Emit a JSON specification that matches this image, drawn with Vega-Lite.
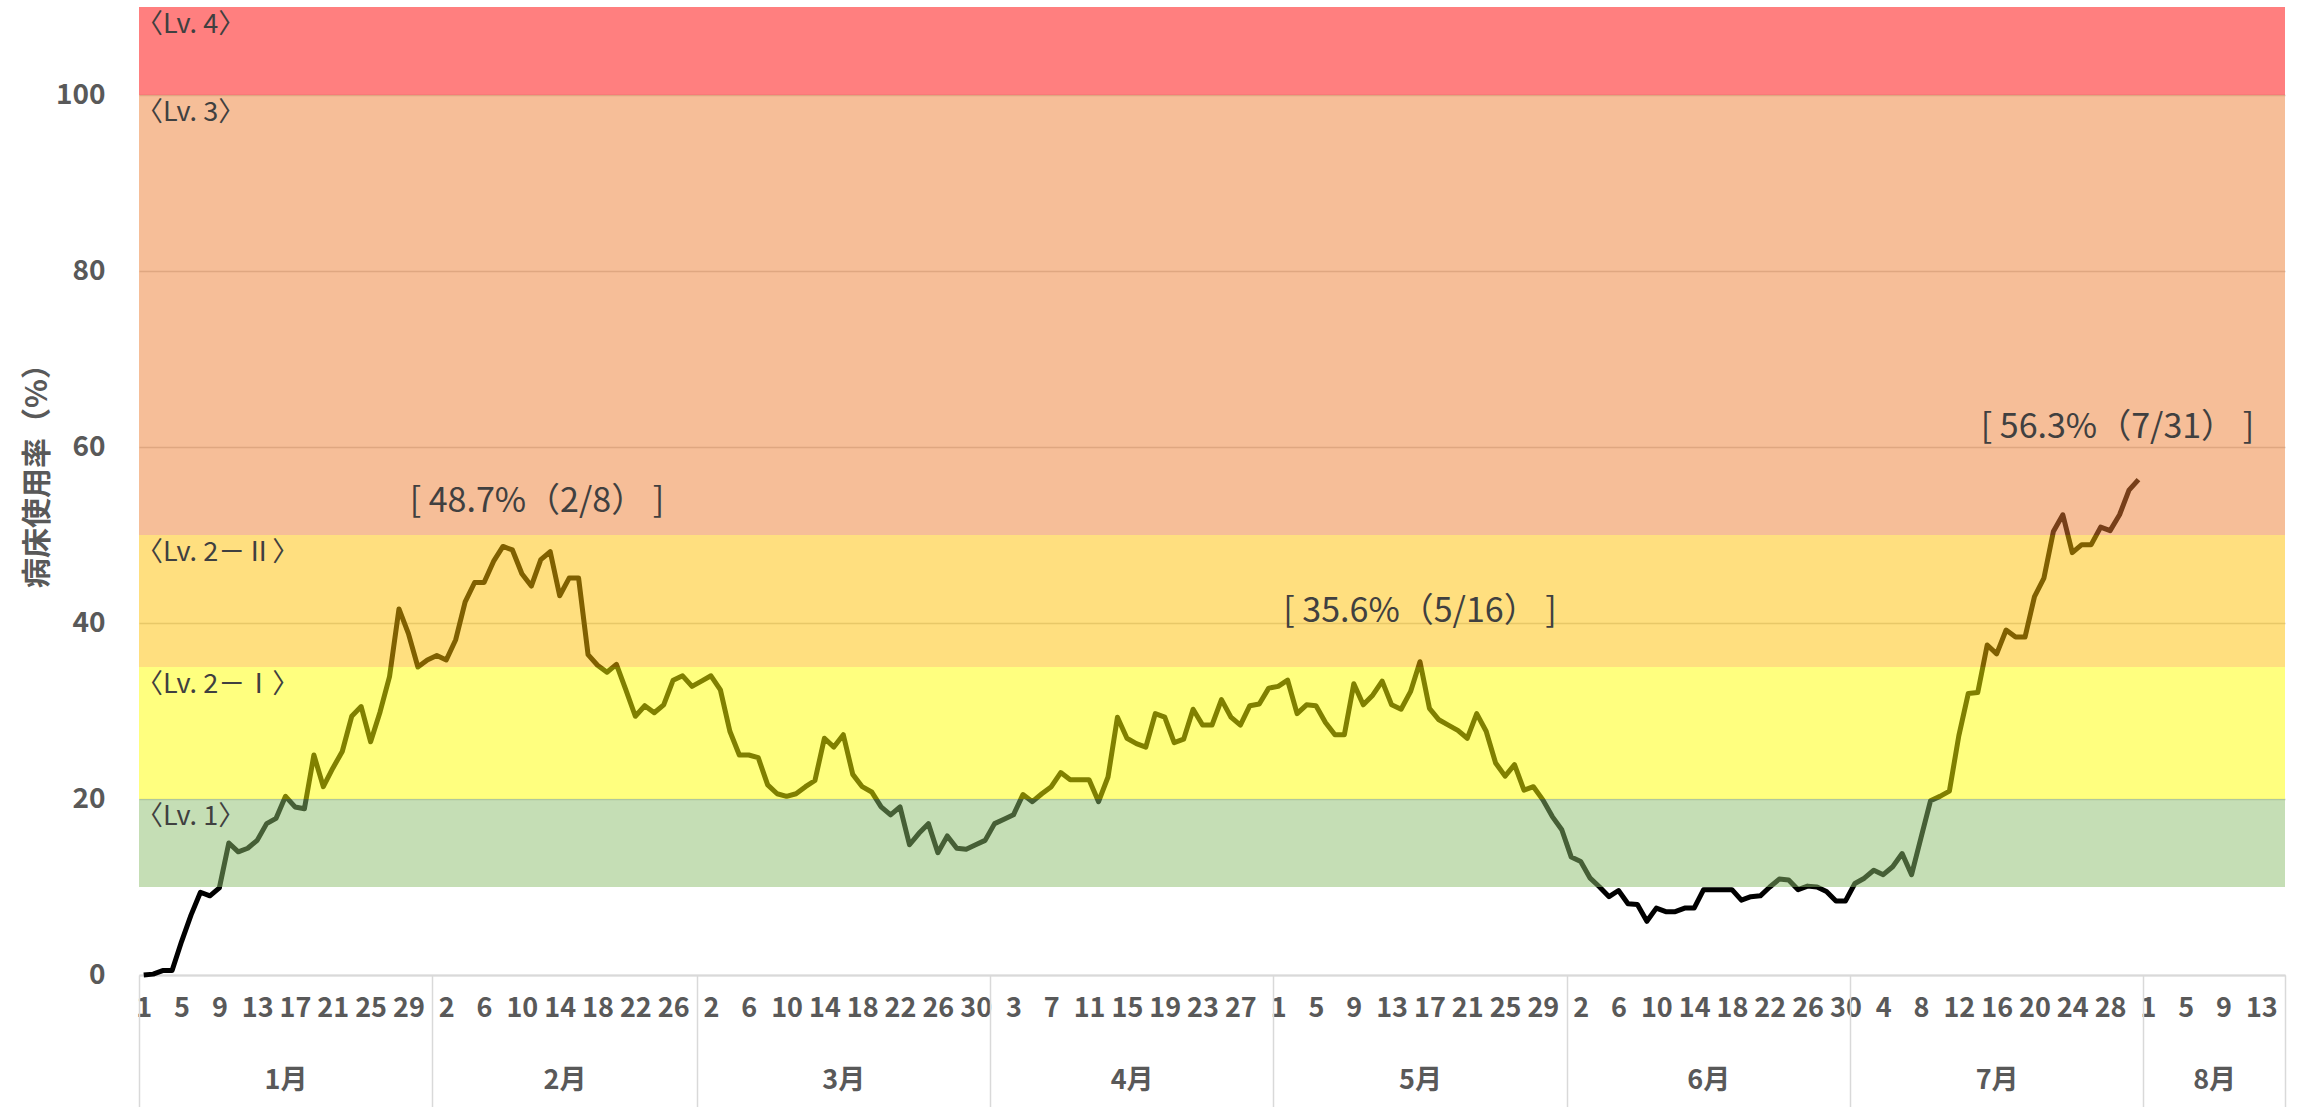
{
  "$schema": "https://vega.github.io/schema/vega-lite/v6.json",
  "width": 2146,
  "height": 968,
  "autosize": "none",
  "padding": {"left": 139, "top": 7, "right": 15, "bottom": 132},
  "background": "white",
  "config": {"view": {"stroke": null}, "font": "Noto Sans CJK JP"},
  "datasets": {
    "beds": [
      {"i":0,"v":0.0},{"i":1,"v":0.1},{"i":2,"v":0.5},{"i":3,"v":0.5},{"i":4,"v":3.8},{"i":5,"v":6.8},{"i":6,"v":9.4},{"i":7,"v":9.0},{"i":8,"v":9.9},{"i":9,"v":15.0},
      {"i":10,"v":14.0},{"i":11,"v":14.4},{"i":12,"v":15.3},{"i":13,"v":17.2},{"i":14,"v":17.8},{"i":15,"v":20.3},{"i":16,"v":19.1},{"i":17,"v":18.9},{"i":18,"v":25.0},{"i":19,"v":21.4},
      {"i":20,"v":23.5},{"i":21,"v":25.4},{"i":22,"v":29.4},{"i":23,"v":30.5},{"i":24,"v":26.5},{"i":25,"v":29.9},{"i":26,"v":33.9},{"i":27,"v":41.6},{"i":28,"v":38.8},{"i":29,"v":35.0},
      {"i":30,"v":35.8},{"i":31,"v":36.3},{"i":32,"v":35.8},{"i":33,"v":38.1},{"i":34,"v":42.4},{"i":35,"v":44.6},{"i":36,"v":44.6},{"i":37,"v":47.0},{"i":38,"v":48.7},{"i":39,"v":48.3},
      {"i":40,"v":45.6},{"i":41,"v":44.2},{"i":42,"v":47.2},{"i":43,"v":48.1},{"i":44,"v":43.1},{"i":45,"v":45.1},{"i":46,"v":45.1},{"i":47,"v":36.4},{"i":48,"v":35.2},{"i":49,"v":34.4},
      {"i":50,"v":35.3},{"i":51,"v":32.4},{"i":52,"v":29.4},{"i":53,"v":30.6},{"i":54,"v":29.8},{"i":55,"v":30.7},{"i":56,"v":33.5},{"i":57,"v":34.0},{"i":58,"v":32.8},{"i":59,"v":33.4},
      {"i":60,"v":34.0},{"i":61,"v":32.4},{"i":62,"v":27.7},{"i":63,"v":25.0},{"i":64,"v":25.0},{"i":65,"v":24.7},{"i":66,"v":21.6},{"i":67,"v":20.6},{"i":68,"v":20.3},{"i":69,"v":20.6},
      {"i":70,"v":21.4},{"i":71,"v":22.1},{"i":72,"v":26.9},{"i":73,"v":25.9},{"i":74,"v":27.3},{"i":75,"v":22.8},{"i":76,"v":21.4},{"i":77,"v":20.8},{"i":78,"v":19.1},{"i":79,"v":18.2},
      {"i":80,"v":19.1},{"i":81,"v":14.8},{"i":82,"v":16.1},{"i":83,"v":17.2},{"i":84,"v":13.9},{"i":85,"v":15.8},{"i":86,"v":14.4},{"i":87,"v":14.3},{"i":88,"v":14.8},{"i":89,"v":15.3},
      {"i":90,"v":17.2},{"i":91,"v":17.7},{"i":92,"v":18.2},{"i":93,"v":20.5},{"i":94,"v":19.7},{"i":95,"v":20.6},{"i":96,"v":21.4},{"i":97,"v":23.0},{"i":98,"v":22.2},{"i":99,"v":22.2},
      {"i":100,"v":22.2},{"i":101,"v":19.7},{"i":102,"v":22.5},{"i":103,"v":29.3},{"i":104,"v":26.9},{"i":105,"v":26.3},{"i":106,"v":25.9},{"i":107,"v":29.7},{"i":108,"v":29.3},{"i":109,"v":26.4},
      {"i":110,"v":26.8},{"i":111,"v":30.2},{"i":112,"v":28.4},{"i":113,"v":28.4},{"i":114,"v":31.3},{"i":115,"v":29.3},{"i":116,"v":28.4},{"i":117,"v":30.6},{"i":118,"v":30.8},{"i":119,"v":32.6},
      {"i":120,"v":32.8},{"i":121,"v":33.5},{"i":122,"v":29.7},{"i":123,"v":30.7},{"i":124,"v":30.6},{"i":125,"v":28.7},{"i":126,"v":27.3},{"i":127,"v":27.3},{"i":128,"v":33.1},{"i":129,"v":30.7},
      {"i":130,"v":31.8},{"i":131,"v":33.4},{"i":132,"v":30.7},{"i":133,"v":30.2},{"i":134,"v":32.2},{"i":135,"v":35.6},{"i":136,"v":30.3},{"i":137,"v":29.0},{"i":138,"v":28.4},{"i":139,"v":27.8},
      {"i":140,"v":26.9},{"i":141,"v":29.7},{"i":142,"v":27.7},{"i":143,"v":24.1},{"i":144,"v":22.6},{"i":145,"v":23.9},{"i":146,"v":21.0},{"i":147,"v":21.4},{"i":148,"v":19.9},{"i":149,"v":18.0},
      {"i":150,"v":16.5},{"i":151,"v":13.4},{"i":152,"v":12.9},{"i":153,"v":11.0},{"i":154,"v":10.0},{"i":155,"v":8.9},{"i":156,"v":9.6},{"i":157,"v":8.1},{"i":158,"v":8.0},{"i":159,"v":6.1},
      {"i":160,"v":7.6},{"i":161,"v":7.2},{"i":162,"v":7.2},{"i":163,"v":7.6},{"i":164,"v":7.6},{"i":165,"v":9.7},{"i":166,"v":9.7},{"i":167,"v":9.7},{"i":168,"v":9.7},{"i":169,"v":8.5},
      {"i":170,"v":8.9},{"i":171,"v":9.0},{"i":172,"v":10.0},{"i":173,"v":10.9},{"i":174,"v":10.8},{"i":175,"v":9.7},{"i":176,"v":10.1},{"i":177,"v":10.0},{"i":178,"v":9.5},{"i":179,"v":8.4},
      {"i":180,"v":8.4},{"i":181,"v":10.4},{"i":182,"v":11.0},{"i":183,"v":11.9},{"i":184,"v":11.4},{"i":185,"v":12.3},{"i":186,"v":13.8},{"i":187,"v":11.4},{"i":188,"v":15.6},{"i":189,"v":19.8},
      {"i":190,"v":20.3},{"i":191,"v":20.9},{"i":192,"v":27.2},{"i":193,"v":32.0},{"i":194,"v":32.1},{"i":195,"v":37.5},{"i":196,"v":36.5},{"i":197,"v":39.2},{"i":198,"v":38.4},{"i":199,"v":38.4},
      {"i":200,"v":43.0},{"i":201,"v":45.1},{"i":202,"v":50.4},{"i":203,"v":52.3},{"i":204,"v":48.0},{"i":205,"v":48.9},{"i":206,"v":48.9},{"i":207,"v":50.9},{"i":208,"v":50.5},{"i":209,"v":52.3},
      {"i":210,"v":55.1},{"i":211,"v":56.3}
    ],
    "bands": [
      {"lv": "〈Lv. 1〉", "lo": 10, "hi": 20},
      {"lv": "〈Lv. 2－Ⅰ〉", "lo": 20, "hi": 35},
      {"lv": "〈Lv. 2－Ⅱ〉", "lo": 35, "hi": 50},
      {"lv": "〈Lv. 3〉", "lo": 50, "hi": 100},
      {"lv": "〈Lv. 4〉", "lo": 100, "hi": 110}
    ]
  },
  "resolve": {"axis": {"x": "independent", "y": "independent"}},
  "layer": [
    {
      "data": {"name": "beds"},
      "mark": {"type": "line", "color": "#000000", "strokeWidth": 5, "strokeJoin": "round"},
      "encoding": {
        "x": {
          "field": "i", "type": "quantitative",
          "scale": {"domain": [-0.5, 226.5], "nice": false, "zero": false},
          "axis": {
            "orient": "bottom",
            "values": [0,4,8,12,16,20,24,28,32,36,40,44,48,52,56,60,64,68,72,76,80,84,88,92,96,100,104,108,112,116,120,124,128,132,136,140,144,148,152,156,160,164,168,172,176,180,184,188,192,196,200,204,208,212,216,220,224],
            "labelExpr": "date(datetime(2022, 0, 1 + datum.value))",
            "ticks": false, "grid": false, "domain": true, "domainColor": "#d9d9d9", "domainWidth": 2,
            "labelFontWeight": "bold", "labelFontSize": 27, "labelColor": "#595959",
            "labelPadding": 20, "labelOverlap": false, "labelFlush": false, "title": null
          }
        },
        "y": {
          "field": "v", "type": "quantitative",
          "scale": {"domain": [0, 110], "nice": false, "zero": true},
          "axis": {
            "orient": "left",
            "values": [0, 20, 40, 60, 80, 100],
            "grid": true, "gridColor": "#d0d0d0", "gridWidth": 1.5,
            "domain": false, "ticks": false,
            "labelFontSize": 28, "labelFontWeight": "bold", "labelColor": "#595959", "labelPadding": 34,
            "title": "病床使用率（%）", "titleFontSize": 30, "titleFontWeight": "bold", "titleColor": "#595959",
            "titleX": -102, "titleY": 461, "titleAngle": 270, "titleAlign": "center", "titleBaseline": "middle"
          }
        }
      }
    },
    {
      "data": {"name": "bands"},
      "mark": {"type": "rect", "opacity": 0.5},
      "encoding": {
        "y": {"field": "lo", "type": "quantitative", "axis": null},
        "y2": {"field": "hi"},
        "color": {
          "field": "lv", "type": "nominal", "legend": null,
          "scale": {
            "domain": ["〈Lv. 1〉", "〈Lv. 2－Ⅰ〉", "〈Lv. 2－Ⅱ〉", "〈Lv. 3〉", "〈Lv. 4〉"],
            "range": ["#8CBE6C", "#FFFF00", "#FFC000", "#ED7D31", "#FF0000"]
          }
        }
      }
    },
    {
      "data": {"name": "bands"},
      "mark": {"type": "text", "align": "left", "baseline": "top", "dx": -3, "dy": 5, "fontSize": 27, "color": "#404040"},
      "encoding": {
        "x": {"datum": -0.5, "type": "quantitative", "scale": {"domain": [-0.5, 226.5], "nice": false, "zero": false}, "axis": null},
        "y": {"field": "hi", "type": "quantitative", "axis": null},
        "text": {"field": "lv"}
      }
    },
    {
      "data": {"values": [{"i": 38, "v": 48.7, "t": "[   48.7%（2/8）   ]"}]},
      "mark": {"type": "text", "dx": 34, "dy": -44, "fontSize": 34, "color": "#404040"},
      "encoding": {
        "x": {"field": "i", "type": "quantitative", "scale": {"domain": [-0.5, 226.5], "nice": false, "zero": false}, "axis": null},
        "y": {"field": "v", "type": "quantitative", "axis": null},
        "text": {"field": "t"}
      }
    },
    {
      "data": {"values": [{"i": 135, "v": 35.6, "t": "[   35.6%（5/16）   ]"}]},
      "mark": {"type": "text", "dx": 0, "dy": -50, "fontSize": 34, "color": "#404040"},
      "encoding": {
        "x": {"field": "i", "type": "quantitative", "scale": {"domain": [-0.5, 226.5], "nice": false, "zero": false}, "axis": null},
        "y": {"field": "v", "type": "quantitative", "axis": null},
        "text": {"field": "t"}
      }
    },
    {
      "data": {"values": [{"i": 211, "v": 56.3, "t": "[   56.3%（7/31）   ]"}]},
      "mark": {"type": "text", "dx": -21, "dy": -52, "fontSize": 34, "color": "#404040"},
      "encoding": {
        "x": {"field": "i", "type": "quantitative", "scale": {"domain": [-0.5, 226.5], "nice": false, "zero": false}, "axis": null},
        "y": {"field": "v", "type": "quantitative", "axis": null},
        "text": {"field": "t"}
      }
    },
    {
      "data": {"name": "beds"},
      "mark": {"type": "point", "opacity": 0},
      "encoding": {
        "x": {
          "field": "i", "type": "quantitative",
          "scale": {"domain": [-0.5, 226.5], "nice": false, "zero": false},
          "axis": {
            "orient": "bottom",
            "values": [15, 44.5, 74, 104.5, 135, 165.5, 196, 219],
            "labelExpr": "(month(datetime(2022, 0, 1 + floor(datum.value))) + 1) + '月'",
            "ticks": false, "domain": false, "grid": false,
            "labelFontSize": 27, "labelFontWeight": "bold", "labelColor": "#595959",
            "labelPadding": 92, "labelOverlap": false, "labelFlush": false, "title": null
          }
        },
        "y": {"field": "v", "type": "quantitative", "axis": null}
      }
    },
    {
      "data": {"name": "beds"},
      "mark": {"type": "point", "opacity": 0},
      "encoding": {
        "x": {
          "field": "i", "type": "quantitative",
          "scale": {"domain": [-0.5, 226.5], "nice": false, "zero": false},
          "axis": {
            "orient": "bottom",
            "values": [-0.5, 30.5, 58.5, 89.5, 119.5, 150.5, 180.5, 211.5, 226.5],
            "labels": false, "ticks": true, "tickSize": 132, "tickColor": "#d9d9d9", "tickWidth": 1.5,
            "domain": false, "grid": false, "title": null
          }
        },
        "y": {"field": "v", "type": "quantitative", "axis": null}
      }
    }
  ]
}
